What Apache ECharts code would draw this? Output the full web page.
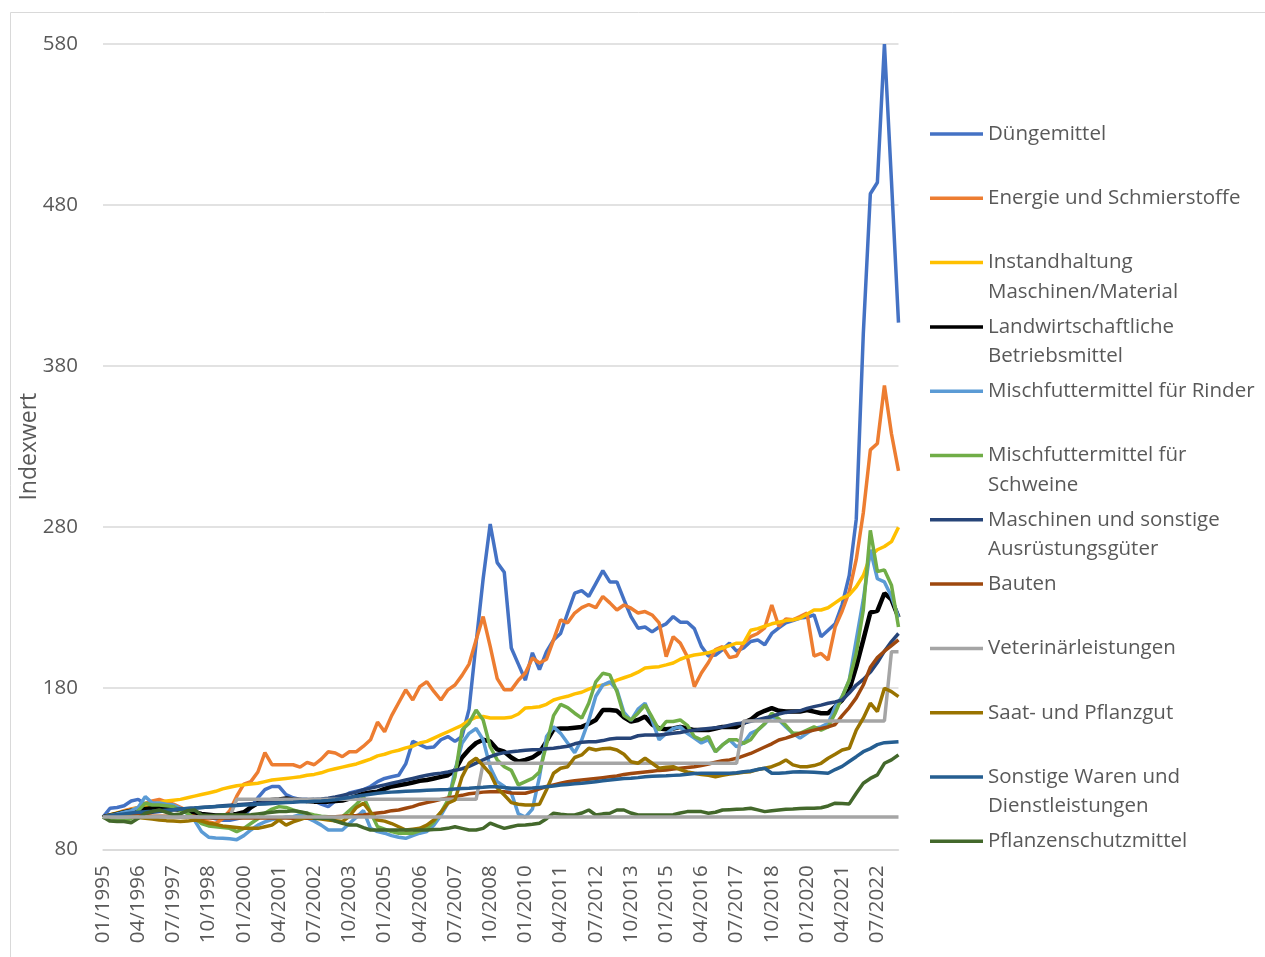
<!DOCTYPE html>
<html>
<head>
    <meta charset="utf-8">
    <title>Indexwerte Betriebsmittel</title>
    <script src="https://cdn.jsdelivr.net/npm/echarts@6/dist/echarts.min.js"></script>
    <style>
        html, body { margin: 0; padding: 0; background: #fff; }
        #main { width: 1265px; height: 957px; }
    </style>
</head>
<body>
<div id="main"></div>
<script type="text/javascript">
    // Quartale 01/1995 .. 04/2023
    var months = ['01', '04', '07', '10'];
    var categories = [];
    for (var y = 1995; y <= 2023; y++) {
        for (var m = 0; m < 4; m++) {
            if (categories.length < 114) categories.push(months[m] + '/' + y);
        }
    }

    var dueng = [
        100,105.5,106,107,110,111,108,106,105,105,
        106,105,104,103,101,100,99,98,98,99,
        100,106,112,117,119,119,114,112,111,111,
        110,108,106.5,110,112,115,116,117,119,122,
        124,125,126,133,147,145,143,143.5,148,150,
        147,150,167,208,248,282,258,252,205,195,
        185,202,191.6,202.7,210,214,226.7,239,240.6,237,
        245,253,246,246,235,224.5,217.3,218,215,218,
        220,224.5,221,221,217,206,200,200.6,204,208,
        203,205,209,210,207,214,217.5,220.6,222,223.6,
        224,225.6,212,216,220,232,250,285,400,487,
        494,580,495,407];

    var energie = [
        100,101,102.5,104,105,106,108.5,110,111,109.5,
        108,106,104,101,98,97,96,99,104,113,
        120.5,122,128,140,132.5,132.5,132.5,132.5,131,134,
        132.5,136,140.6,139.8,137.5,140.6,140.6,144,148,159,
        153,163,171,179,172.7,181,184,178,172.7,179,
        182,188,195,210,224.5,206,186,179,179,185,
        189.5,198.8,195.7,198,210,222.5,220.6,226.7,230,232,
        230,237,233,228.6,231.7,229.7,226.7,227.6,225.5,220.6,
        199.6,212,208,199.6,181,189.5,196,204,205.8,199,
        200,208,212,214,217.5,231.7,218.5,223,222.5,224.5,
        226.7,200,201.6,197.6,218,228,240,260,289,328,
        332,368,338,315];

    var instand = [
        100,101.5,102.5,103.5,104.5,106,107,108,109,110,
        110.5,111,112,113,114,115,116,117.5,118.5,119.5,
        120,120.5,121,122,123,123.5,124,124.5,125,126,
        126.5,127.5,129,130,131,132,133,134.5,136,138,
        139,140.5,141.5,143,144,146,147,149,151,153,
        155,157,160,162,162.5,161.5,161.5,161.5,162,164,
        167.8,168,168.5,170,172.7,174,175,176.5,177.5,179.5,
        181,182,183,185,186.5,188,190,192.6,193,193.4,
        194.5,195.7,198,199.6,200.6,201.3,202,203.5,205,206.5,
        208,208,216,217,218.5,220,221,222,222.5,223.5,
        226,228.6,228.6,230,233,236,238,243,250,262,
        266,268,271,280];

    var landw = [
        100,101,102,103,104,104.5,105,105.5,105.5,105,
        105,104.5,103.5,103,102,101.5,101,101,101.5,102,
        103,106,108.7,110,110.6,111,111.5,111,110.6,110,
        109.6,109.6,109.6,110,110.3,111.5,113,114.5,115.3,115.8,
        117.5,119,119.8,120.5,121.5,122.5,123,124,125,126,
        129,137,142,146,148,147,142,140.6,137,134.4,
        135.5,137,140,147,154.5,155,155,155.5,156,158,
        160.3,166.5,166.5,166,162,159.3,160.3,162.4,157.5,155,
        154.5,155,156,155,154,154,154,155,156,156,
        156,158.5,160.5,164,166,167.6,166,165.5,165.5,165.5,
        166.5,165.5,164.5,164.5,168.6,172.7,179,193.4,210,227,
        228,239,235,224];

    var rinder = [
        100,101,102,103,104,106,112.7,108.7,108.7,108,
        107.5,105.5,102,98,91,87.5,87,86.8,86.5,86,
        88.5,92,95,97,98.5,99.2,100,100.2,101.5,99.5,
        97.5,95,92,92,92,96,100,104,93,91,
        90,88.5,87.5,86.8,88.5,90,91,95,101,108.6,
        129,145.8,152,155,148,131,122,119,115,102,
        100,105,125,150,156,152,146,140,148,160,
        175,182,184,179,165,160,167,170.7,160,148,
        152,155,156,152,149,146,148,140.6,144.8,148,
        143.7,146,152,154,158,162.4,160.3,156,152,149,
        152,155,156,158.2,168.6,174.8,185,210,235,266,
        248,246,237,224];

    var schweine = [
        100,99,98,98,99,104,108.6,107.5,107.5,107,
        106.5,104,102.4,99.3,96,94.5,94,93.5,93,91,
        93,96,99,102.4,105,106.5,106,104.4,103,102.4,
        101.3,100.5,100.2,100.2,100.2,104,108,112.7,103,94,
        92.5,91,90,90,90,91.5,93,97,103,110.6,
        125,154,158.3,166.5,160.3,143.7,135.5,131.3,129,120,
        122,124,128,145,163,170,168,164.5,161.4,170.7,
        184,189.3,188.3,178,163,160.3,164.5,169.6,162,154,
        159.3,159.3,160.3,157,150,148,150,140.6,144.8,148,
        148,145.8,148,154,158,164.5,161,157,152,152,
        154,156,154,156,164.5,174.8,185,201.7,228.6,278,
        252.4,253.5,244,218];

    var maschinen = [
        100,100.3,100.6,101,101.5,102,102.5,103,103.5,104,
        104.5,105,105.3,105.6,106,106.3,106.6,107,107.3,107.6,
        108,108.3,108.6,109,109.3,109.6,110,110.3,110.6,110.8,
        111,111.3,111.7,112.5,113.5,114.5,115.5,117,118,119,
        120,121,122,123,124,125,126,126.8,127.3,128,
        129,130,131.5,133.5,135.5,137.5,139,140,140.6,141,
        141.5,141.8,142,142.4,142.7,143.3,144,145.5,146.5,146.8,
        146.8,147.5,148.5,149,149,149,150.5,151,151,151,
        151.5,152,152.5,153.5,154,154.5,155,155.5,156,157,
        158,158.5,159.5,160.5,161.5,162.5,164,165,165.5,166,
        167.5,168.6,169.5,170.7,171.5,172.7,177,182,185.5,190,
        196,203,209,214];

    var bauten = [
        100,100.5,101,101,101,101,101,100.5,100.5,100.5,
        100.5,100,100,100,99.5,99.5,99.5,99.5,99.5,99.5,
        99.5,99.5,99.5,99.5,99.5,99.5,99.5,99.3,99.3,99.3,
        99.3,99.5,100,100.2,100.5,100.8,101,101.3,102,102.5,
        103,104,104.4,105.5,106.5,108,109,110,111,111.8,
        112.7,113.5,114.5,115,115.5,115.8,115.8,115.8,115,114.8,
        114.8,116,117.5,119,120,121,122,122.5,123,123.5,
        124,124.5,125,125.5,126.5,127,127.5,128,128.5,129,
        129.3,129.8,130.3,130.8,131.3,132,133,134,135,135.5,
        136.5,138,139.5,141.5,143.5,145.5,147.9,149,150.5,152,
        153,154,155,156,157.5,163,168,174,182,193,
        199,203,206.5,210];

    var veterinaer = [
        100,100,100,100,100,100,100,100,100,100,
        100,100,100,100,100,100,100,100,100,111,
        111,111,111,111,111,111,111,111,111,111,
        111,111,111,111,111,111,111,111,111,111,
        111,111,111,111,111,111,111,111,111,111,
        111,111,111,111,133.4,133.4,133.4,133.4,133.4,133.4,
        133.4,133.4,133.4,133.4,133.4,133.4,133.4,133.4,133.4,133.4,
        133.4,133.4,133.4,133.4,133.4,133.4,133.4,133.4,133.4,133.4,
        133.4,133.4,133.4,133.4,133.4,133.4,133.4,133.4,133.4,133.4,
        133.4,159.7,159.7,159.7,159.7,159.7,159.7,159.7,159.7,159.7,
        159.7,159.7,159.7,159.7,159.7,159.7,159.7,159.7,159.7,159.7,
        159.7,159.7,202.7,202.7];

    var saat = [
        100,101,101.3,100.8,100.2,99.8,99.3,98.8,98.2,97.8,
        97.5,97.2,97.5,98.2,97.5,96.2,95.5,94.5,94,93.5,
        93,93,93,94,95,98.2,95,97,98.5,100,
        99.3,98.8,98.2,97.7,97.2,100.5,106,108.6,103,98.2,
        97.5,96,94,92,92.5,93,95,98.2,103,108.6,
        110.6,125,133.4,136.5,132,127,118,113.7,109,108,
        107.5,107.5,108,117,127.2,130.3,131.3,137,138.6,142.7,
        141.7,142.5,142.7,141.7,139,134.4,133.4,136.5,133.4,130.3,
        131,131.3,129.5,128,127.2,126.5,126,125.1,126,126.7,
        127.2,127.8,128.2,129.5,130.3,131.3,133,135.5,132.4,131.3,
        131.3,132,133.4,136.5,139,141.7,142.7,154,161.4,170.7,
        165.5,180,177.9,174.8];

    var sonstige = [
        100,101,101.5,102,102.5,103,103.3,103.6,104,104.3,
        104.6,105,105.3,105.6,106,106.2,106.5,106.8,107,107.2,
        107.5,107.7,108,108.2,108.5,108.7,109,109.2,109.5,109.6,
        109.8,110,110.3,110.8,111.5,112.2,113,113.6,114.2,114.8,
        115.2,115.5,115.8,116,116.2,116.4,116.6,116.8,117,117.2,
        117.5,117.7,117.9,118.2,118.5,118.9,118.9,118.3,117.9,117.9,
        117.9,118,118.4,118.9,119.3,119.9,120.3,120.7,121,121.5,
        122,122.5,123,123.5,124,124.1,124.5,125.1,125.3,125.5,
        125.6,125.9,126.2,126.6,127,127.2,127.2,127.2,127.2,127.2,
        127.5,128.2,128.6,129.5,130.3,127.2,127.2,127.5,128,128.2,
        128,127.8,127.5,127.2,129.5,131.5,134.5,137.5,140.6,142.5,
        145,146.2,146.5,146.8];

    var pflanzen = [
        100,97.5,97.2,97.2,96.5,99.3,102.4,103.5,104.4,103,
        101.5,102,104,104.4,101.3,101,101,101.5,101.5,101.3,
        101.3,101.5,102,102.5,103,103.4,103.4,104,103.4,102.4,
        99.3,99.3,99.3,97.5,96.2,95.1,95.1,93.5,92,92,
        92,92,92,92,92,92,92,92.3,92.5,93,
        94,93,92,92,93,96.2,94.5,93,94,95,
        95.1,95.5,96.2,99,102.4,101.8,101.3,101.3,102.5,104.4,
        101.3,102,102.4,104.4,104.4,102.5,101.3,101.3,101.3,101.3,
        101.3,101.5,102.5,103.4,103.4,103.4,102.4,103,104.4,104.6,
        104.8,105,105.5,104.5,103.4,104,104.4,104.8,105,105.3,
        105.5,105.5,105.8,106.9,108.6,108.4,108.2,114.8,121,124,
        126.2,133.4,135.5,138.6];

    var seriesNames = [
        'Düngemittel',
        'Energie und Schmierstoffe',
        'Instandhaltung\nMaschinen/Material',
        'Landwirtschaftliche\nBetriebsmittel',
        'Mischfuttermittel für Rinder',
        'Mischfuttermittel für\nSchweine',
        'Maschinen und sonstige\nAusrüstungsgüter',
        'Bauten',
        'Veterinärleistungen',
        'Saat- und Pflanzgut',
        'Sonstige Waren und\nDienstleistungen',
        'Pflanzenschutzmittel'
    ];
    var seriesData = [dueng, energie, instand, landw, rinder, schweine,
        maschinen, bauten, veterinaer, saat, sonstige, pflanzen];
    var colors = ['#4472C4', '#ED7D31', '#FFC000', '#000000', '#5B9BD5', '#70AD47',
        '#264478', '#9E480E', '#A5A5A5', '#997300', '#255E91', '#43682B'];

    var FONT = 'Open Sans';
    var TXT = '#595959';

    var chart = echarts.init(document.getElementById('main'), null, { renderer: 'canvas' });

    var series = seriesNames.map(function (name, k) {
        var s = {
            name: name,
            type: 'line',
            data: seriesData[k],
            symbol: 'none',
            clip: false,
            color: colors[k],
            lineStyle: { width: k === 3 ? 4.5 : 3.5, color: colors[k] }
        };
        if (k === 8) {
            // Basislinie 100
            s.markLine = {
                silent: true,
                symbol: 'none',
                label: { show: false },
                lineStyle: { color: '#A5A5A5', width: 3.5, type: 'solid' },
                data: [{ yAxis: 100 }]
            };
        }
        return s;
    });

    // zweite Zeile der Legendeneinträge
    var legendTop = 122, legendStep = 64.3, legendLine = 24;
    var extraLines = [];
    seriesNames.forEach(function (name, k) {
        var parts = name.split('\n');
        if (parts.length > 1) {
            extraLines.push({
                type: 'text',
                x: 988,
                y: legendTop + legendLine / 2 + legendStep * k + 29.5,
                silent: true,
                style: {
                    text: parts[1],
                    font: '20.5px "' + FONT + '"',
                    fill: TXT,
                    verticalAlign: 'middle'
                }
            });
        }
    });

    var option = {
        animation: false,
        backgroundColor: '#ffffff',
        grid: { left: 103, right: 366.5, top: 44, bottom: 107.7 },
        legend: {
            orient: 'vertical',
            left: 930,
            top: legendTop,
            padding: 0,
            icon: 'rect',
            itemWidth: 53,
            itemHeight: 3.5,
            itemGap: legendStep - legendLine,
            textStyle: { color: TXT, fontFamily: FONT, fontSize: 20.5, lineHeight: legendLine },
            formatter: function (name) { return name.split('\n')[0]; },
            data: seriesNames
        },
        xAxis: {
            type: 'category',
            data: categories,
            boundaryGap: false,
            axisLine: { lineStyle: { color: '#D9D9D9', width: 1.5 } },
            axisTick: { show: false },
            axisLabel: {
                interval: 4,
                rotate: 90,
                margin: 16,
                color: TXT,
                fontFamily: FONT,
                fontSize: 20.5
            }
        },
        yAxis: {
            type: 'value',
            min: 80,
            max: 580,
            interval: 100,
            name: 'Indexwert',
            nameLocation: 'middle',
            nameGap: 62,
            nameMoveOverlap: false,
            nameTextStyle: { color: TXT, fontFamily: FONT, fontSize: 23 },
            axisLine: { show: false },
            axisTick: { show: false },
            axisLabel: { margin: 25, color: TXT, fontFamily: FONT, fontSize: 20.5 },
            splitLine: { lineStyle: { color: '#D9D9D9', width: 1.5 } }
        },
        graphic: [{
            type: 'rect',
            silent: true,
            z: -10,
            shape: { x: 10.5, y: 12.5, width: 1300, height: 1000 },
            style: { fill: 'none', stroke: '#D9D9D9', lineWidth: 1 }
        }].concat(extraLines),
        series: series
    };

    chart.setOption(option);
</script>
</body>
</html>
